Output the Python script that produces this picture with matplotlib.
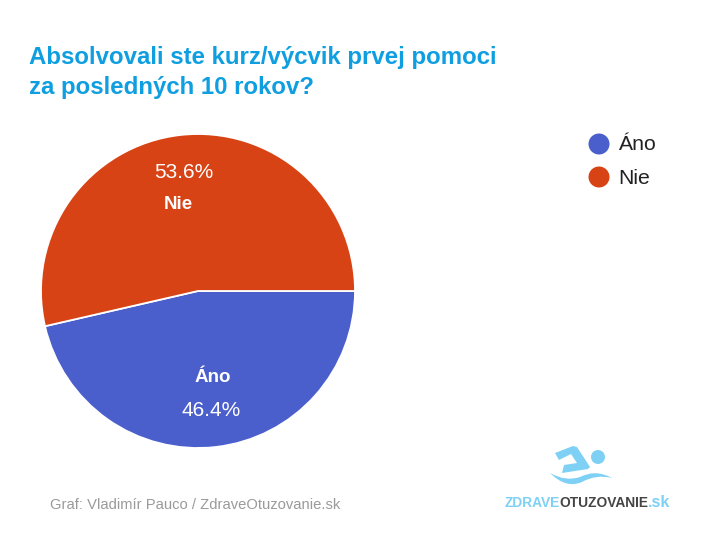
import matplotlib
matplotlib.use("Agg")
import matplotlib.pyplot as plt
from matplotlib.patches import Circle, Polygon, PathPatch
from matplotlib.path import Path

# -----------------------------
# DATA
# -----------------------------
categories = ["Áno", "Nie"]
values = [46.4, 53.6]
colors = ["#4A5FCC", "#D84315"]
title_lines = ["Absolvovali ste kurz/výcvik prvej pomoci", "za posledných 10 rokov?"]
credit = "Graf: Vladimír Pauco / ZdraveOtuzovanie.sk"

plt.rcParams['font.family'] = ['Liberation Sans', 'DejaVu Sans']

W, H = 728, 560
fig = plt.figure(figsize=(W / 100, H / 100), dpi=100, facecolor="white")

# -----------------------------
# Pie
# -----------------------------
cx, cy, r = 198, 291, 157
ax = fig.add_axes([(cx - r) / W, 1 - (cy + r) / H, 2 * r / W, 2 * r / H])
wedges, _ = ax.pie(values, colors=colors, startangle=0, counterclock=False, radius=1,
                   wedgeprops={"edgecolor": "white", "linewidth": 1.3})
ax.set_xlim(-1, 1)
ax.set_ylim(-1, 1)

# overlay in pixel coordinates for the text, legend and logo
over = fig.add_axes([0, 0, 1, 1], facecolor="none")
over.set_xlim(0, W)
over.set_ylim(H, 0)
over.axis("off")

# -----------------------------
# Titles and labels
# -----------------------------
over.text(29, 64, title_lines[0], fontsize=17.25, fontweight="bold", color="#0F9FE0")
over.text(29, 94, title_lines[1], fontsize=17.25, fontweight="bold", color="#0F9FE0")

over.text(184, 178, f"{values[1]}%", fontsize=15, color="white", ha="center")
over.text(178.5, 209, categories[1], fontsize=13.5, fontweight="bold", color="white", ha="center")
over.text(212.5, 382, categories[0], fontsize=13.5, fontweight="bold", color="white", ha="center")
over.text(211, 416, f"{values[0]}%", fontsize=15, color="white", ha="center")

# legend
for name, col, y in zip(categories, colors, [144, 177]):
    over.add_patch(Circle((599, y), 10.5, color=col, lw=0))
    over.text(618, y + 6.5, name, fontsize=15.3, color="#222222")

over.text(50, 509, credit, fontsize=10.6, color="#9A9A9A")

# -----------------------------
# Logo
# -----------------------------
logo_blue = "#7FD0F5"
over.add_patch(Circle((598, 457), 7, color=logo_blue, lw=0))
over.add_patch(Polygon([(555, 453), (573, 446), (577, 447), (590, 467), (588, 469), (562, 473),
                        (564, 465), (577, 463), (571, 454), (559, 460)], closed=True, color=logo_blue, lw=0))
wave = Path([(550, 473), (566, 482), (580, 477), (596, 469), (612, 478),
             (596, 474), (582, 482), (566, 489), (550, 473)],
            [Path.MOVETO, Path.CURVE3, Path.CURVE3, Path.CURVE3, Path.CURVE3,
             Path.CURVE3, Path.CURVE3, Path.CURVE3, Path.CURVE3])
over.add_patch(PathPatch(wave, facecolor=logo_blue, edgecolor="none", lw=0))

logo_y = 507
over.text(505, logo_y, "ZDRAVE", fontsize=9.9, fontweight="bold", color=logo_blue)
over.text(559, logo_y, "OTUZOVANIE", fontsize=9.9, fontweight="bold", color="#444444")
over.text(648, logo_y, ".sk", fontsize=11.5, fontweight="bold", color=logo_blue)

fig.savefig("out.png", dpi=100, facecolor="white")
